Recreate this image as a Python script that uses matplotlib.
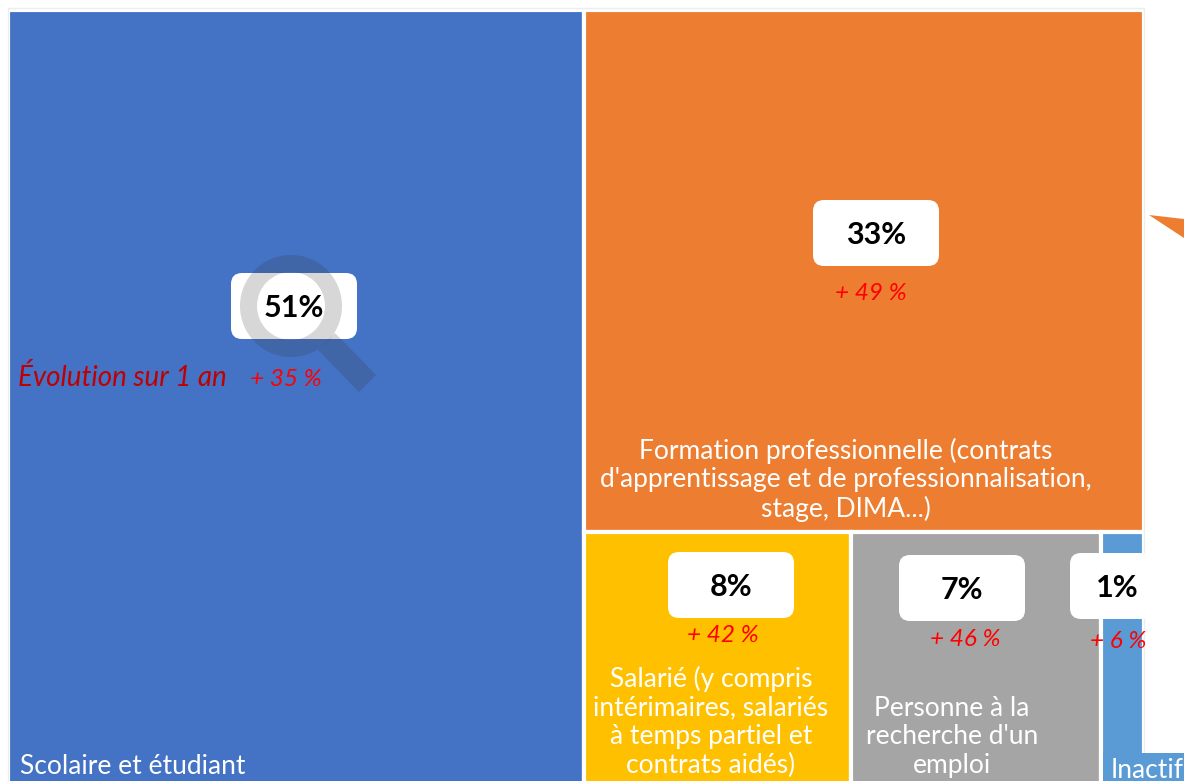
import matplotlib
matplotlib.use("Agg")
import matplotlib.pyplot as plt
from matplotlib.patches import Rectangle, FancyBboxPatch, Polygon, Wedge

plt.rcParams['font.family'] = ['Lato', 'DejaVu Sans']

# data
categories = ["Scolaire et étudiant",
              "Formation professionnelle (contrats\nd'apprentissage et de professionnalisation,\nstage, DIMA...)",
              "Salarié (y compris\nintérimaires, salariés\nà temps partiel et\ncontrats aidés)",
              "Personne à la\nrecherche d'un\nemploi",
              "Inactif"]
values = [51.4, 33.6, 7.85, 7.35, 1.26]
share_labels = ["51%", "33%", "8%", "7%", "1%"]
growth_labels = ["+ 35 %", "+ 49 %", "+ 42 %", "+ 46 %", "+ 6 %"]
colors = ["#4472C4", "#ED7D31", "#FFC000", "#A5A5A5", "#5B9BD5"]

# layout (pixels)
X0, Y0, W, H = 8, 10, 1136, 777
box_xy = [(294, 306), (876, 233), (731, 585), (962, 588), (1133, 586)]
share_xy = [(294, 308), (876, 235), (731, 587), (962, 590), (1117, 588)]
growth_xy = [(286, 379), (871, 293), (723, 636), (965, 640), (1118, 642)]
label_xy = [(133, 767), (846, 480), (711, 722), (952, 737), (1147, 770)]

fig = plt.figure(figsize=(11.84, 7.81), dpi=100)
ax = fig.add_axes([0, 0, 1, 1])
ax.set_xlim(0, 1184)
ax.set_ylim(781, 0)
ax.axis('off')

# treemap layout computed from the values
right_sum = sum(values[1:])
left_w = W * values[0] / (values[0] + right_sum)
right_w = W - left_w
top_h = H * values[1] / right_sum
bot_sum = sum(values[2:])
rects = [(X0, Y0, left_w, H), (X0 + left_w, Y0, right_w, top_h)]
x = X0 + left_w
for v in values[2:]:
    w = right_w * v / bot_sum
    rects.append((x, Y0 + top_h, w, H - top_h))
    x += w

for (rx, ry, rw, rh), c in zip(rects, colors):
    ax.add_patch(Rectangle((rx, ry), rw, rh, fc=c, ec='white', lw=3, zorder=2))
ax.add_patch(Rectangle((X0, Y0 - 2), W, H + 2, fc='none', ec='#EDEDED', lw=1.0, zorder=3))

# blue backing of the "Inactif" label and orange pointer at the right edge
ax.add_patch(Rectangle((1103, 753), 81, 28, fc=colors[4], ec='none', zorder=3))
ax.add_patch(Polygon([(1149, 215), (1184, 219), (1184, 238)], fc=colors[1], ec='none', zorder=3))

for (cx, cy) in box_xy:
    ax.add_patch(FancyBboxPatch((cx - 63, cy - 33), 126, 66,
                                boxstyle="round,pad=0,rounding_size=11",
                                fc='white', ec='none', zorder=4))
for (sx, sy), s in zip(share_xy, share_labels):
    ax.text(sx, sy, s, ha='center', va='center', fontsize=22, fontweight='bold',
            color='black', zorder=7)

for (gx, gy), s in zip(growth_xy, growth_labels):
    ax.text(gx, gy, s, ha='center', va='center', fontsize=17.5, style='italic',
            color='#FF0000', zorder=6)

ax.text(18, 378, "Évolution sur 1 an", ha='left', va='center', fontsize=20, style='italic',
        color='#C00000', zorder=6)

for (lx, ly), s in zip(label_xy, categories):
    ax.text(lx, ly, s, ha='center', va='center', fontsize=19, color='white',
            linespacing=1.18, zorder=6)

# magnifier icon
ax.add_patch(Wedge((291, 306), 51, 0, 360, width=17, fc='#373737', alpha=0.2, ec='none', zorder=5))
ax.add_patch(Polygon([(318, 350), (335, 333), (376, 375), (359, 392)], fc='#373737', alpha=0.2,
                     ec='none', zorder=5))

fig.savefig("out.png", dpi=100)
